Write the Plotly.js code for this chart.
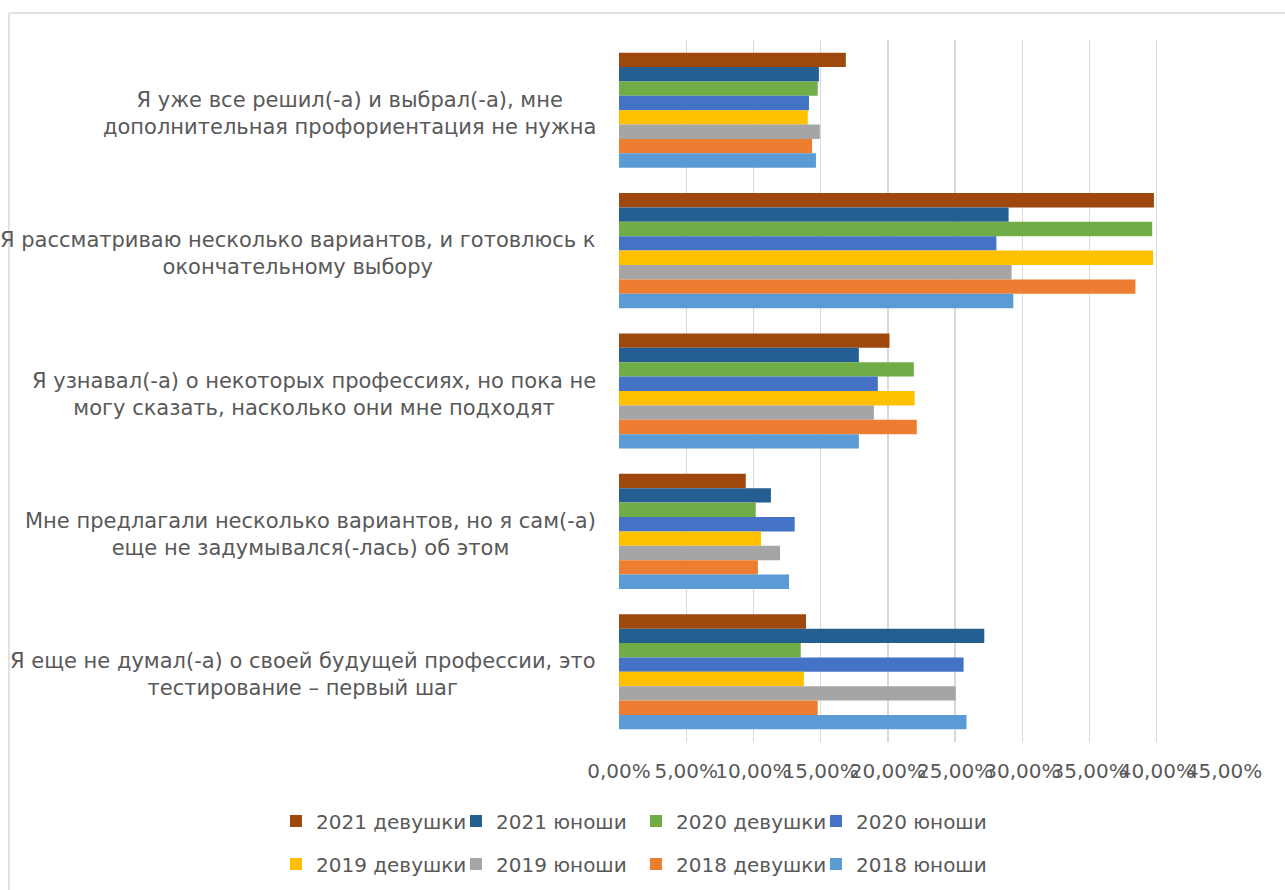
<!DOCTYPE html>
<html>
<head>
<meta charset="utf-8">
<script src="https://cdn.plot.ly/plotly-3.0.1.min.js"></script>
<style>
html,body{margin:0;padding:0;background:#fff;}
#chart{width:1285px;height:890px;}
</style>
</head>
<body>
<div id="chart"></div>
<script>
// Categories (top to bottom)
var categories = [
  "Я уже все решил(-а) и выбрал(-а), мне<br>дополнительная профориентация не нужна",
  "Я рассматриваю несколько вариантов, и готовлюсь к<br>окончательному выбору",
  "Я узнавал(-а) о некоторых профессиях, но пока не<br>могу сказать, насколько они мне подходят",
  "Мне предлагали несколько вариантов, но я сам(-а)<br>еще не задумывался(-лась) об этом",
  "Я еще не думал(-а) о своей будущей профессии, это<br>тестирование – первый шаг"
];

// Series values (percent), in category order
var s2021girls = [16.87, 39.79, 20.12, 9.43, 13.91];
var s2021boys  = [14.87, 28.98, 17.84, 11.30, 27.17];
var s2020girls = [14.78, 39.66, 21.93, 10.17, 13.52];
var s2020boys  = [14.13, 28.07, 19.25, 13.07, 25.63];
var s2019girls = [14.04, 39.73, 21.99, 10.56, 13.75];
var s2019boys  = [14.94, 29.20, 18.96, 11.98, 25.05];
var s2018girls = [14.36, 38.41, 22.15, 10.33, 14.78];
var s2018boys  = [14.65, 29.33, 17.84, 12.65, 25.85];

var seriesNames = ["2021 девушки", "2021 юноши", "2020 девушки", "2020 юноши",
                   "2019 девушки", "2019 юноши", "2018 девушки", "2018 юноши"];
var seriesValues = [s2021girls, s2021boys, s2020girls, s2020boys,
                    s2019girls, s2019boys, s2018girls, s2018boys];
var seriesColors = ["#9E480E", "#255E91", "#70AD47", "#4472C4",
                    "#FFC000", "#A5A5A5", "#ED7D31", "#5B9BD5"];

var tickVals = [0, 5, 10, 15, 20, 25, 30, 35, 40, 45];
var tickText = tickVals.map(function(v) { return v.toFixed(2).replace(".", ",") + "%"; });

var FONT = "DejaVu Sans, Liberation Sans, Arial, sans-serif";
var GREY = "#595959";

var traces = seriesNames.map(function(name, i) {
  return {
    type: "bar",
    orientation: "h",
    name: name,
    x: seriesValues[i],
    y: categories,
    marker: {color: seriesColors[i], line: {width: 0}},
    legend: i < 4 ? "legend" : "legend2",
    hoverinfo: "skip"
  };
});

var annotations = categories.map(function(c) {
  return {
    xref: "paper", yref: "y",
    x: 0, y: c,
    xanchor: "right", yanchor: "middle",
    xshift: -21, yshift: -3,
    align: "center",
    showarrow: false,
    text: c,
    font: {family: FONT, size: 21, color: GREY}
  };
});

var legendCommon = {
  orientation: "h",
  xanchor: "left",
  yanchor: "middle",
  x: -0.567,
  entrywidth: 135,
  entrywidthmode: "pixels",
  font: {family: FONT, size: 20, color: GREY},
  bgcolor: "rgba(0,0,0,0)",
  traceorder: "normal"
};

var layout = {
  width: 1285,
  height: 890,
  margin: {l: 619, r: 61, t: 40, b: 148, pad: 0, autoexpand: false},
  paper_bgcolor: "#ffffff",
  plot_bgcolor: "#ffffff",
  barmode: "group",
  bargap: 0.18,
  bargroupgap: 0,
  font: {family: FONT, color: GREY},
  xaxis: {
    range: [0, 45],
    tickmode: "array",
    tickvals: tickVals,
    ticktext: tickText,
    tickangle: 0,
    showgrid: true,
    gridcolor: "#d9d9d9",
    gridwidth: 1.3,
    zeroline: false,
    showline: false,
    ticks: "",
    ticklabelstandoff: 15,
    ticklabeloverflow: "allow",
    tickfont: {family: FONT, size: 20, color: GREY},
    automargin: false,
    fixedrange: true
  },
  yaxis: {
    type: "category",
    autorange: "reversed",
    showticklabels: false,
    showgrid: false,
    zeroline: false,
    showline: false,
    ticks: "",
    automargin: false,
    fixedrange: true
  },
  legend: Object.assign({}, legendCommon, {y: -0.1125}),
  legend2: Object.assign({}, legendCommon, {y: -0.1738}),
  annotations: annotations,
  shapes: [
    {type: "line", xref: "paper", yref: "paper",
     x0: (9 - 619) / 605, x1: (1290 - 619) / 605,
     y0: (742 - 13) / 702, y1: (742 - 13) / 702,
     line: {color: "#d9d9d9", width: 1.5}},
    {type: "line", xref: "paper", yref: "paper",
     x0: (9 - 619) / 605, x1: (9 - 619) / 605,
     y0: (742 - 13) / 702, y1: (742 - 900) / 702,
     line: {color: "#d9d9d9", width: 1.5}}
  ],
  showlegend: true
};

Plotly.newPlot("chart", traces, layout, {staticPlot: true, displayModeBar: false});
</script>
</body>
</html>
